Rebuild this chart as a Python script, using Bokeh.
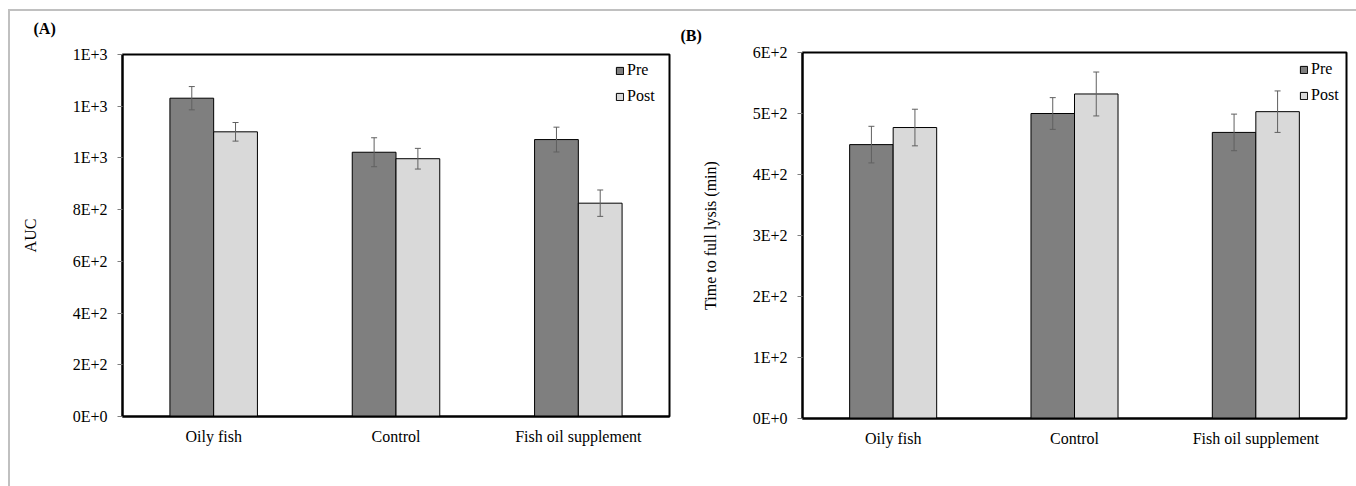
from bokeh.plotting import figure
from bokeh.models import ColumnDataSource, FactorRange, Whisker, TeeHead, FixedTicker
from bokeh.transform import dodge
from bokeh.layouts import row, column
from bokeh.embed import file_html
from bokeh.resources import INLINE

# ---------------- data ----------------
categories = ["Oily fish", "Control", "Fish oil supplement"]
series_names = ["Pre", "Post"]

auc_pre = [1231, 1022, 1071]
auc_pre_err = [45, 56, 48]
auc_post = [1101, 997, 825]
auc_post_err = [36, 40, 51]

lysis_pre = [449, 500, 469]
lysis_pre_err = [30, 26, 30]
lysis_post = [477, 532, 503]
lysis_post_err = [30, 36, 34]

auc_ticks = [0, 200, 400, 600, 800, 1000, 1200, 1400]
auc_tick_labels = ["0E+0", "2E+2", "4E+2", "6E+2", "8E+2", "1E+3", "1E+3", "1E+3"]
lysis_ticks = [0, 100, 200, 300, 400, 500, 600]
lysis_tick_labels = ["0E+0", "1E+2", "2E+2", "3E+2", "4E+2", "5E+2", "6E+2"]

FONT = "Liberation Serif"
PRE_COLOR = "#7f7f7f"
POST_COLOR = "#d9d9d9"
ERR_COLOR = "#606060"


def make_panel(pre, pre_err, post, post_err, ticks, tick_labels, ymax, ylabel,
               panel_label, fw, fh, bl, bt, br, bb, legend_loc, title_offset, title_pad):
    src = ColumnDataSource(dict(
        cat=categories,
        pre=pre, post=post,
        pre_up=[v + e for v, e in zip(pre, pre_err)],
        pre_lo=[v - e for v, e in zip(pre, pre_err)],
        post_up=[v + e for v, e in zip(post, post_err)],
        post_lo=[v - e for v, e in zip(post, post_err)],
    ))
    p = figure(x_range=FactorRange(factors=categories, range_padding=0),
               y_range=(0, ymax),
               frame_width=fw, frame_height=fh,
               min_border_left=bl, min_border_top=bt, min_border_right=br, min_border_bottom=bb,
               output_backend="svg", toolbar_location=None, tools="",
               title=panel_label)
    p.background_fill_color = "white"
    p.border_fill_color = "white"
    p.outline_line_color = "black"
    p.outline_line_width = 2
    p.xgrid.visible = False
    p.ygrid.visible = False

    t = p.title
    t.text_font = FONT
    t.text_font_size = "16px"
    t.text_font_style = "bold"
    t.text_color = "black"
    t.align = "left"
    t.offset = title_offset
    t.standoff = 0
    t.padding = dict(left=0, right=0, top=0, bottom=title_pad)

    p.vbar(x=dodge("cat", -0.12, range=p.x_range), top="pre", width=0.24, source=src,
           fill_color=PRE_COLOR, line_color="black", line_width=1, legend_label=series_names[0])
    p.vbar(x=dodge("cat", 0.12, range=p.x_range), top="post", width=0.24, source=src,
           fill_color=POST_COLOR, line_color="black", line_width=1, legend_label=series_names[1])

    for off, up, lo in [(-0.12, "pre_up", "pre_lo"), (0.12, "post_up", "post_lo")]:
        w = Whisker(base=dodge("cat", off, range=p.x_range), upper=up, lower=lo, source=src,
                    line_color=ERR_COLOR, line_width=1,
                    upper_head=TeeHead(size=6, line_color=ERR_COLOR, line_width=1),
                    lower_head=TeeHead(size=6, line_color=ERR_COLOR, line_width=1),
                    level="annotation")
        p.add_layout(w)

    yax = p.yaxis[0]
    yax.ticker = FixedTicker(ticks=ticks)
    yax.major_label_overrides = {t: l for t, l in zip(ticks, tick_labels)}
    yax.minor_tick_line_color = None
    yax.major_tick_in = 0
    yax.major_tick_out = 5
    yax.major_tick_line_color = "#7f7f7f"
    yax.axis_line_color = "black"
    yax.axis_line_width = 2
    yax.major_label_standoff = 10
    yax.major_label_text_font = FONT
    yax.major_label_text_font_size = "16px"
    yax.major_label_text_color = "black"
    yax.axis_label = ylabel
    yax.axis_label_text_font = FONT
    yax.axis_label_text_font_size = "16px"
    yax.axis_label_text_font_style = "normal"
    yax.axis_label_text_color = "black"
    yax.axis_label_standoff = 31

    xax = p.xaxis[0]
    xax.major_tick_line_color = None
    xax.minor_tick_line_color = None
    xax.axis_line_color = "black"
    xax.axis_line_width = 2
    xax.major_label_standoff = 5
    xax.major_label_text_font = FONT
    xax.major_label_text_font_size = "16px"
    xax.major_label_text_color = "black"

    lg = p.legend[0]
    lg.location = legend_loc
    lg.padding = 0
    lg.margin = 0
    lg.spacing = 6
    lg.glyph_width = 9
    lg.glyph_height = 9
    lg.label_standoff = 3
    lg.label_height = 20
    lg.label_text_font = FONT
    lg.label_text_font_size = "16px"
    lg.label_text_color = "black"
    lg.background_fill_alpha = 0
    lg.border_line_color = None
    return p


pA = make_panel(auc_pre, auc_pre_err, auc_post, auc_post_err, auc_ticks, auc_tick_labels, 1400,
                "AUC", "(A)", fw=547, fh=362, bl=112, bt=43, br=11, bb=69,
                legend_loc=(493, 310), title_offset=-89, title_pad=18)
pB = make_panel(lysis_pre, lysis_pre_err, lysis_post, lysis_post_err, lysis_ticks, lysis_tick_labels, 600,
                "Time to full lysis (min)", "(B)", fw=544, fh=366, bl=122, bt=41, br=10, bb=68,
                legend_loc=(497, 313), title_offset=-122, title_pad=9)

layout = row(column(pA), column(pB),
             styles={"border-top": "2px solid #c0c0c0", "border-left": "2px solid #c0c0c0",
                     "margin-left": "8px", "margin-top": "9px", "background": "white"})

open("out.html", "w").write(file_html(layout, INLINE))
